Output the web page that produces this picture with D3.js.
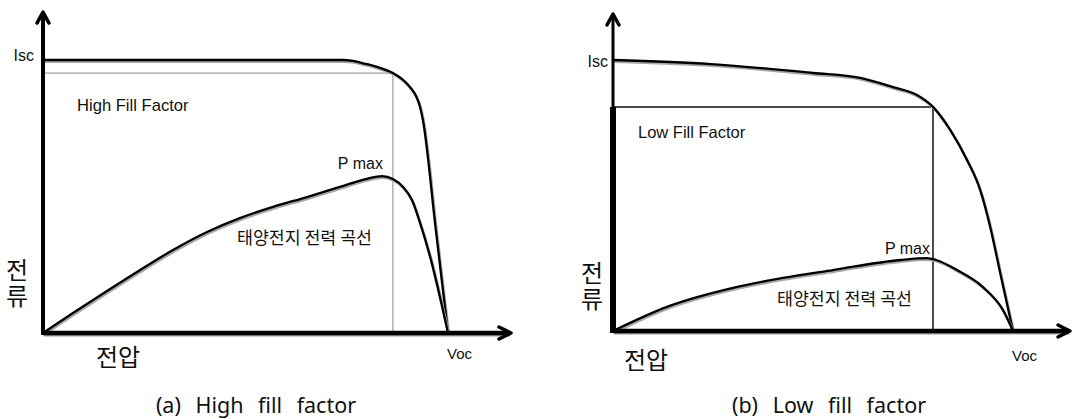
<!DOCTYPE html>
<html>
<head>
<meta charset="utf-8">
<script src="https://cdn.jsdelivr.net/npm/d3@7"></script>
<style>
  html, body { margin: 0; padding: 0; background: #fff; }
  svg { display: block; }
  .lat { font-family: "Liberation Sans", Arial, sans-serif; fill: #111; }
  .kor { font-family: "Noto Sans CJK KR", sans-serif; fill: #111; }
  .ttl { font-family: "Noto Sans", "Liberation Sans", sans-serif; fill: #111; word-spacing: 9px; }
</style>
</head>
<body>
<div class="chart"></div>
<script>
// values are normalised: voltage as a fraction of Voc, current as a fraction of Isc
const titles = ['(a) High fill factor', '(b) Low fill factor'];
const fillLabels = ['High Fill Factor', 'Low Fill Factor'];
const powerLabel = '태양전지 전력 곡선';
const axisY = '전류';
const axisX = '전압';

// (a) high fill factor
const ivVoltA = [0, 0.511, 0.740, 0.765, 0.790, 0.812, 0.832, 0.864, 0.889, 0.906, 0.921, 0.931, 0.938, 0.969, 1];
const ivCurrA = [1, 1, 1, 0.997, 0.988, 0.980, 0.971, 0.952, 0.927, 0.901, 0.868, 0.828, 0.780, 0.390, 0];
const pwVoltA = [0, 0.074, 0.158, 0.240, 0.321, 0.405, 0.486, 0.568, 0.652, 0.733, 0.800, 0.837, 0.864, 0.889, 0.911, 0.931, 0.956, 1];
const pwValA = [0, 0.073, 0.154, 0.231, 0.304, 0.370, 0.421, 0.462, 0.498, 0.535, 0.565, 0.575, 0.564, 0.535, 0.487, 0.403, 0.278, 0];
const mppA = [0.864, 0.952];

// (b) low fill factor
const ivVoltB = [0, 0.245, 0.5, 0.618, 0.7, 0.76, 0.8, 0.843, 0.885, 0.918, 0.943, 0.968, 1];
const ivCurrB = [1, 0.985, 0.952, 0.934, 0.9, 0.871, 0.827, 0.742, 0.631, 0.52, 0.384, 0.214, 0];
const pwVoltB = [0, 0.135, 0.3, 0.425, 0.55, 0.718, 0.785, 0.808, 0.86, 0.925, 0.975, 1];
const pwValB = [0, 0.089, 0.159, 0.196, 0.225, 0.262, 0.269, 0.262, 0.225, 0.162, 0.077, 0];
const mppB = [0.8, 0.827];

const width = 1075;
const height = 419;

const svg = d3.select('.chart').append('svg')
    .attr('width', width)
    .attr('height', height)
    .attr('viewBox', `0 0 ${width} ${height}`);

// layout of each panel (pixels)
const panels = [
    {
        xr: [43, 448], yr: [333, 60], xEnd: 1.158, yEnd: 1.183,
        iv: d3.zip(ivVoltA, ivCurrA), pw: d3.zip(pwVoltA, pwValA), mpp: mppA,
        rectColor: '#8a8a8a', rectWidth: 1, axisLo: 4, axisHi: 4,
        isc: [34, -5], fill: [77, 105], pmax: [-10, -13], pwl: [237, 236],
        ylab: [17, 284], xlab: [96, 355], voc: [-1, 20], title: [256, 404], fillSize: 16.6
    },
    {
        xr: [613, 1013], yr: [331, 60], xEnd: 1.145, yEnd: 1.177,
        iv: d3.zip(ivVoltB, ivCurrB), pw: d3.zip(pwVoltB, pwValB), mpp: mppB,
        rectColor: '#111', rectWidth: 1.5, axisLo: 6, axisHi: 3,
        isc: [608, 1], fill: [638, 132], pmax: [-3, -10], pwl: [777, 297],
        ylab: [592, 287], xlab: [624, 358], voc: [-1, 24], title: [829, 404], fillSize: 16.5
    }
];

panels.forEach((p, i) => {
    const x = d3.scaleLinear().domain([0, 1]).range(p.xr);
    const y = d3.scaleLinear().domain([0, 1]).range(p.yr);
    const g = svg.append('g');

    const line = d3.line()
        .x(d => x(d[0]))
        .y(d => y(d[1]))
        .curve(d3.curveMonotoneX);

    /* max power rectangle */
    g.append('path')
        .attr('d', `M${x(0)},${y(p.mpp[1])}H${x(p.mpp[0])}V${y(0)}`)
        .attr('fill', 'none')
        .attr('stroke', p.rectColor)
        .attr('stroke-width', p.rectWidth);

    /* curves with soft shadow */
    [p.iv, p.pw].forEach(data => {
        g.append('path')
            .datum(data)
            .attr('d', line)
            .attr('fill', 'none')
            .attr('stroke', '#a8a8a8')
            .attr('stroke-width', 2.6)
            .attr('transform', 'translate(1,1.6)');
        g.append('path')
            .datum(data)
            .attr('d', line)
            .attr('fill', 'none')
            .attr('stroke', '#000')
            .attr('stroke-width', 2.3)
            .attr('stroke-linejoin', 'round');
    });

    /* axes */
    const x0 = x(0), y0 = y(0), xe = x(p.xEnd), ye = y(p.yEnd);
    g.append('line')
        .attr('x1', x0 + 1).attr('x2', xe - 2).attr('y1', y0 + 1.5).attr('y2', y0 + 1.5)
        .attr('stroke', '#999').attr('stroke-width', 4);
    g.append('line')
        .attr('x1', x0).attr('x2', xe - 2).attr('y1', y0).attr('y2', y0)
        .attr('stroke', '#000').attr('stroke-width', 4.5);
    g.append('line')
        .attr('x1', x0).attr('x2', x0).attr('y1', y0 + 2).attr('y2', y(p.mpp[1]))
        .attr('stroke', '#000').attr('stroke-width', p.axisLo);
    g.append('line')
        .attr('x1', x0).attr('x2', x0).attr('y1', y(p.mpp[1]) + 1).attr('y2', ye + 2)
        .attr('stroke', '#000').attr('stroke-width', p.axisHi);
    g.append('path')
        .attr('d', `M${x0 - 6},${ye + 13}L${x0},${ye + 2}L${x0 + 6},${ye + 13}`)
        .attr('fill', 'none').attr('stroke', '#000').attr('stroke-width', 3.5)
        .attr('stroke-linecap', 'round').attr('stroke-linejoin', 'round');
    g.append('path')
        .attr('d', `M${xe - 13},${y0 - 6}L${xe - 1},${y0}L${xe - 13},${y0 + 6}`)
        .attr('fill', 'none').attr('stroke', '#000').attr('stroke-width', 3.5)
        .attr('stroke-linecap', 'round').attr('stroke-linejoin', 'round');

    /* labels */
    g.append('text').attr('class', 'lat')
        .attr('x', p.isc[0])
        .attr('y', y(1) + p.isc[1])
        .attr('text-anchor', 'end')
        .attr('dominant-baseline', 'central')
        .style('font-size', '16px')
        .text('Isc');
    g.append('text').attr('class', 'lat')
        .attr('x', p.fill[0]).attr('y', p.fill[1])
        .attr('dominant-baseline', 'central')
        .style('font-size', p.fillSize + 'px')
        .text(fillLabels[i]);
    const peak = d3.max(p.pw, d => d[1]);
    g.append('text').attr('class', 'lat')
        .attr('x', x(p.mpp[0]) + p.pmax[0])
        .attr('y', y(peak) + p.pmax[1])
        .attr('text-anchor', 'end')
        .attr('dominant-baseline', 'central')
        .style('font-size', '16px')
        .text('P max');
    g.append('text').attr('class', 'kor')
        .attr('x', p.pwl[0]).attr('y', p.pwl[1])
        .attr('dominant-baseline', 'central')
        .style('font-size', '17.3px')
        .text(powerLabel);
    g.append('text').attr('class', 'kor')
        .attr('x', p.ylab[0]).attr('y', p.ylab[1])
        .attr('text-anchor', 'middle')
        .style('writing-mode', 'vertical-rl')
        .style('letter-spacing', '2px')
        .style('font-size', '24px')
        .text(axisY);
    g.append('text').attr('class', 'kor')
        .attr('x', p.xlab[0]).attr('y', p.xlab[1])
        .attr('dominant-baseline', 'central')
        .style('font-size', '24px')
        .text(axisX);
    g.append('text').attr('class', 'lat')
        .attr('x', x(1) + p.voc[0]).attr('y', y0 + p.voc[1])
        .attr('dominant-baseline', 'central')
        .style('font-size', '15px')
        .text('Voc');
    g.append('text').attr('class', 'ttl')
        .attr('x', p.title[0]).attr('y', p.title[1])
        .attr('text-anchor', 'middle')
        .attr('dominant-baseline', 'central')
        .style('font-size', '21.5px')
        .text(titles[i]);
});
</script>
</body>
</html>
